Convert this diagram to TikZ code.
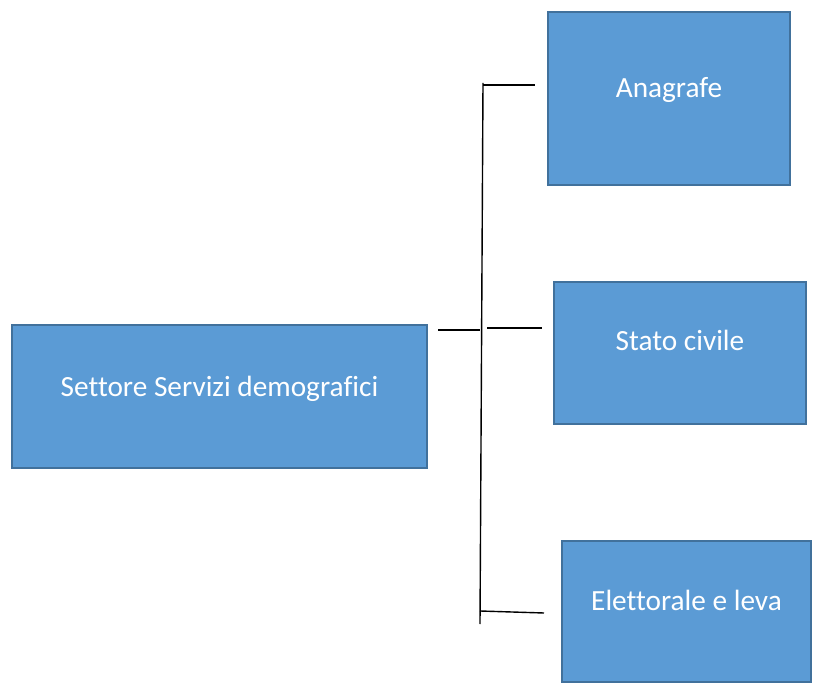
\documentclass[tikz,border=0pt]{standalone}
\usepackage{fontspec}
\setmainfont{Carlito}[Ligatures=NoCommon]
\definecolor{boxfill}{HTML}{5B9BD5}
\definecolor{boxline}{HTML}{41719C}
\tikzset{
  orgbox/.style={draw=boxline, fill=boxfill, line width=2.5pt, inner sep=0pt, outer sep=0pt},
  orgtext/.style={anchor=base, text=white, inner sep=0pt, font=\fontsize{29.3}{35}\selectfont},
  link/.style={draw=black, line width=1.4pt}
}
\begin{document}
\begin{tikzpicture}[x=1pt,y=-1pt]
\useasboundingbox (0,0) rectangle (814,684);
% boxes
\node[orgbox, minimum width=415pt, minimum height=143pt] (main) at (219.5,396.5) {};
\node[orgbox, minimum width=242pt, minimum height=173pt] (ana) at (669,98.5) {};
\node[orgbox, minimum width=252pt, minimum height=142pt] (stato) at (680,353) {};
\node[orgbox, minimum width=249pt, minimum height=141pt] (elet) at (686.5,611.5) {};
% texts
\node[orgtext] (tmain) at (219.5,397) {Settore Servizi demografici};
\node[orgtext] (tana) at (669,98) {Anagrafe};
\node[orgtext] (tstato) at (680,351) {Stato civile};
\node[orgtext] (telet) at (686.5,610) {Elettorale e leva};
% connector points
\coordinate (vtop) at (483,83);
\coordinate (vbot) at (480,624);
\coordinate (atop) at (483,85);
\coordinate (aend) at (535,85);
\coordinate (mstart) at (438,330);
\coordinate (mend) at (480,330);
\coordinate (sstart) at (487,328);
\coordinate (send) at (542,328);
\coordinate (estart) at (480,611);
\coordinate (eend) at (544,613);
% connectors
\draw[link] (vtop) -- (vbot);
\draw[link] (atop) -- (aend);
\draw[link] (mstart) -- (mend);
\draw[link] (sstart) -- (send);
\draw[link] (estart) -- (eend);
\end{tikzpicture}
\end{document}
